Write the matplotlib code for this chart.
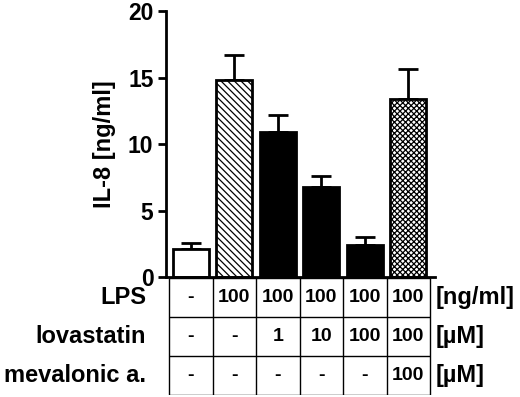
import numpy as np
import matplotlib
matplotlib.use("Agg")
from matplotlib import pyplot as plt

# datos
means = [2.1, 14.8, 10.9, 6.75, 2.4, 13.4]
errs = [0.45, 1.9, 1.3, 0.85, 0.6, 2.25]
fills = ["white", "white", "black", "black", "black", "white"]
hatches = ["", "\\\\\\\\\\", "", "", "", "xxxxxx"]

row_labels = ["LPS", "lovastatin", "mevalonic a."]
row_units = ["[ng/ml]", "[µM]", "[µM]"]
lps = ["-", "100", "100", "100", "100", "100"]
lova = ["-", "-", "1", "10", "100", "100"]
meva = ["-", "-", "-", "-", "-", "100"]
rows = [lps, lova, meva]

plt.rcParams["font.family"] = "Liberation Sans"
plt.rcParams["font.weight"] = "bold"
plt.rcParams["hatch.linewidth"] = 0.9

fig = plt.figure(figsize=(5.2, 3.97), dpi=100)
ax = fig.add_axes([0.319, 0.302, 0.518, 0.670])
x = np.arange(len(means))

# barras con barra de error solo hacia arriba
ax.bar(x, means, width=0.83, color=fills, edgecolor="black", linewidth=2,
       hatch=hatches, zorder=2)
ax.errorbar(x, means, yerr=[np.zeros(len(errs)), errs], fmt="none",
            ecolor="black", elinewidth=2, capsize=7, capthick=2, zorder=1)

ax.set_xlim(-0.576, 5.62)
ax.set_ylim(0, 20)
ax.set_yticks([0, 5, 10, 15, 20])
ax.set_xticks([])
for s in ["top", "right"]:
    ax.spines[s].set_visible(False)
ax.spines["left"].set_linewidth(2)
ax.spines["bottom"].set_linewidth(2)
ax.tick_params(axis="y", length=6, width=2, labelsize=16.5, pad=3)
for t in ax.get_yticklabels():
    t.set_fontweight("bold")
ax.set_ylabel("IL-8 [ng/ml]", fontsize=17, fontweight="bold")
ax.yaxis.set_label_coords(-0.185, 0.5)

# tabla de condiciones debajo
tx = fig.add_axes([0.319, 0.005, 0.518, 0.295])
tx.set_xlim(-0.576, 5.62)
tx.set_ylim(3, 0)
tx.axis("off")
tx.hlines([0, 1, 2, 3], -0.5, len(means) - 0.5, color="black", linewidth=1)
tx.vlines(np.arange(len(means) + 1) - 0.5, 0, 3, color="black", linewidth=1)
for r, vals in enumerate(rows):
    for i, v in enumerate(vals):
        tx.text(i, r + 0.5, v, ha="center", va="center", fontsize=14,
                fontweight="bold")
    tx.text(-1.03, r + 0.5, row_labels[r], ha="right", va="center",
            fontsize=17, fontweight="bold", clip_on=False)
    tx.text(5.64, r + 0.5, row_units[r], ha="left", va="center",
            fontsize=17, fontweight="bold", clip_on=False)

fig.savefig("out.png", dpi=100)
